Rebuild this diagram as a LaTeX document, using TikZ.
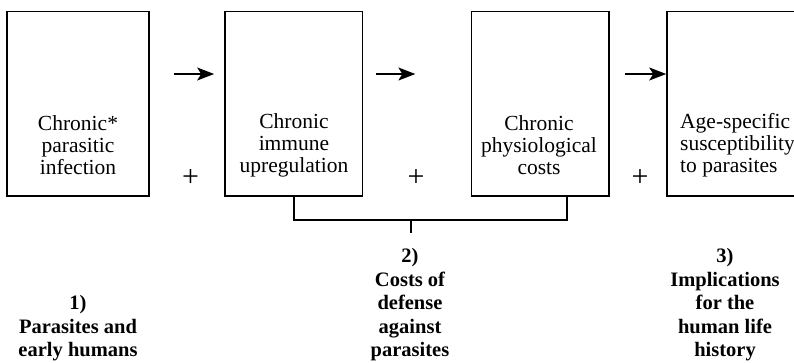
\documentclass[tikz,border=0pt]{standalone}
\usepackage{fontspec}
\setmainfont{Liberation Serif}
\usetikzlibrary{arrows.meta}
\begin{document}
\begin{tikzpicture}[x=1pt,y=-1pt,
  box/.style={draw,line width=1.6pt,minimum width=#1,minimum height=184.5pt,inner sep=0pt,anchor=center},
  txt/.style={align=center,inner sep=0pt,font=\fontsize{21.5}{22}\selectfont},
  lbl/.style={align=center,inner sep=0pt,font=\fontsize{20.5}{23.5}\selectfont\bfseries},
  plus/.style={inner sep=0pt,font=\fontsize{30}{30}\selectfont},
  arr/.style={line width=1.3pt,-{Stealth[length=17pt,width=13pt,inset=4pt]}},
  brk/.style={line width=1.6pt}]
\useasboundingbox (0,0) rectangle (794,362);
\node[box=142pt] (b1) at (78,103.8) {};
\node[box=137.5pt] (b2) at (293.7,103.8) {};
\node[box=137.3pt] (b3) at (540.3,103.8) {};
\node[box=155pt] (b4) at (744.5,103.8) {};
\node[txt] (t1) at (78,145) {Chronic*\\parasitic\\infection};
\node[txt] (t2) at (294,145) {Chronic\\immune\\upregulation};
\node[txt] (t3) at (539,145) {Chronic\\physiological\\costs};
\node[txt,align=left,anchor=west] (t4) at (680,145) {Age-specific\\susceptibility\\to parasites};
\draw[arr] ([shift={(24,-29.8)}]b1.east) -- ([shift={(-10,-29.8)}]b2.west);
\draw[arr] ([shift={(12.5,-29.8)}]b2.east) -- ([shift={(-55.5,-29.8)}]b3.west);
\draw[arr] ([shift={(15,-29.8)}]b3.east) -- ([shift={(0,-29.8)}]b4.west);
\node[plus] (p1) at (190.5,178) {+};
\node[plus] (p2) at (416,178) {+};
\node[plus] (p3) at (640,178) {+};
\coordinate (bl) at (293.7,220);
\coordinate (br) at (567,220);
\coordinate (tk) at (411,220);
\draw[brk] (b2.south) -- (bl) -- (br) -- (br |- b3.south);
\node[lbl] (l1) at (78,328.5) {1)\\Parasites and\\early humans};
\node[lbl] (l2) at (410,305) {2)\\Costs of\\defense\\against\\parasites};
\node[lbl] (l3) at (725,305) {3)\\Implications\\for the\\human life\\history};
\draw[brk] (tk) -- ++(0,13);
\end{tikzpicture}
\end{document}
